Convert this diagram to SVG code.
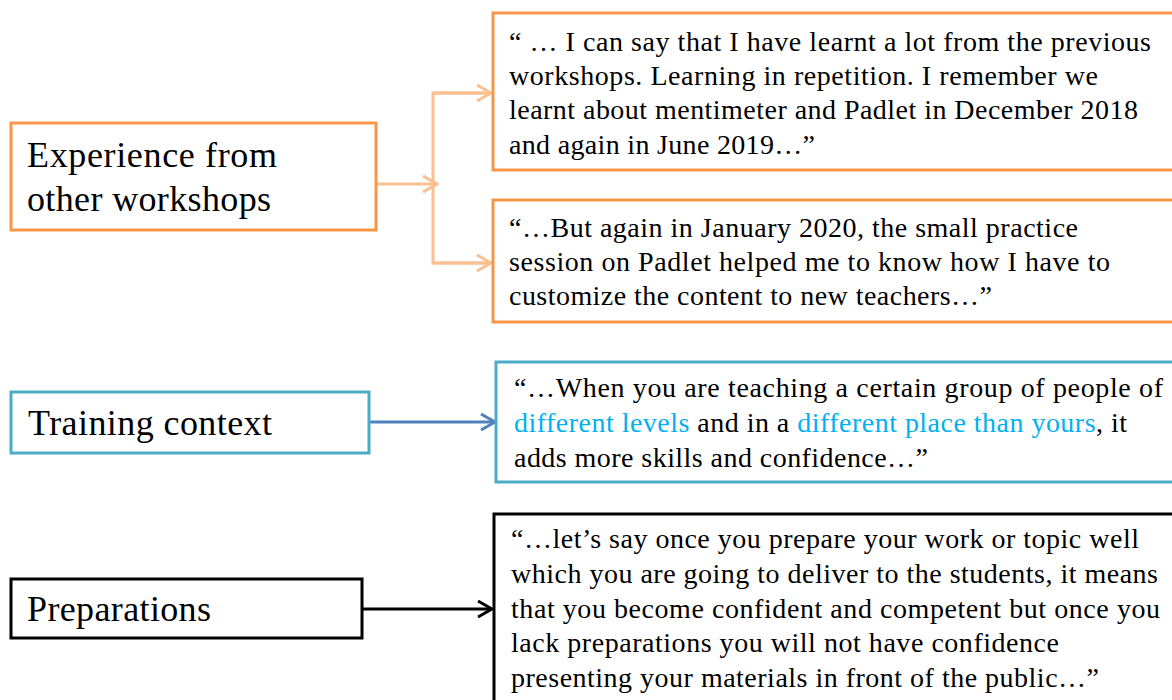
<svg xmlns="http://www.w3.org/2000/svg" width="1172" height="700" viewBox="0 0 1172 700">
  <style>
    .box { fill: #ffffff; stroke-width: 3; }
    .orange { stroke: #F79646; }
    .blue { stroke: #4BACC6; }
    .black { stroke: #000000; }
    .label { font-family: "Liberation Serif", "Times New Roman", serif; font-size: 36px; fill: #000000; }
    .quote { font-family: "Liberation Serif", "Times New Roman", serif; font-size: 28px; fill: #000000; }
    .hl { fill: #00B0F0; }
    .conn { fill: none; stroke-width: 3; }
  </style>
  <defs>
    <marker id="arrow-orange" viewBox="0 0 18 18" refX="16" refY="9" markerWidth="18" markerHeight="18" markerUnits="userSpaceOnUse" orient="auto">
      <path d="M2,1 L16,9 L2,17" fill="none" stroke="#FAC090" stroke-width="3"/>
    </marker>
    <marker id="arrow-blue" viewBox="0 0 18 18" refX="16" refY="9" markerWidth="18" markerHeight="18" markerUnits="userSpaceOnUse" orient="auto">
      <path d="M2,1 L16,9 L2,17" fill="none" stroke="#4F81BD" stroke-width="3"/>
    </marker>
    <marker id="arrow-black" viewBox="0 0 18 18" refX="16" refY="9" markerWidth="18" markerHeight="18" markerUnits="userSpaceOnUse" orient="auto">
      <path d="M2,1 L16,9 L2,17" fill="none" stroke="#000000" stroke-width="3"/>
    </marker>
  </defs>

  <rect width="1172" height="700" fill="#ffffff"/>

  <!-- connectors -->
  <g id="connectors">
    <path class="conn" stroke="#FAC090" d="M376,184 L437,184" marker-end="url(#arrow-orange)"/>
    <path class="conn" stroke="#FAC090" d="M491,93 L433,93 L433,263 L491,263"/>
    <path class="conn" stroke="#FAC090" d="M433,93 L491,93" marker-end="url(#arrow-orange)"/>
    <path class="conn" stroke="#FAC090" d="M433,263 L491,263" marker-end="url(#arrow-orange)"/>
    <path class="conn" stroke="#4F81BD" d="M369,422 L495,422" marker-end="url(#arrow-blue)"/>
    <path class="conn" stroke="#000000" d="M362,609 L492,609" marker-end="url(#arrow-black)"/>
  </g>

  <!-- theme: experience from other workshops -->
  <g id="node-experience">
    <rect class="box orange" x="11" y="123" width="365" height="107"/>
    <text class="label" x="27" y="167" textLength="250" lengthAdjust="spacing">Experience  from</text>
    <text class="label" x="27" y="211" textLength="244" lengthAdjust="spacing">other workshops</text>
  </g>

  <g id="quote-workshops">
    <rect class="box orange" x="493" y="13" width="690" height="157"/>
    <text class="quote" x="509" y="51" textLength="642" lengthAdjust="spacing">“ … I can say that I have learnt a lot from the previous</text>
    <text class="quote" x="509" y="85" textLength="589" lengthAdjust="spacing">workshops. Learning  in repetition. I remember we</text>
    <text class="quote" x="509" y="119" textLength="629" lengthAdjust="spacing">learnt about mentimeter  and Padlet in December 2018</text>
    <text class="quote" x="509" y="154" textLength="306" lengthAdjust="spacing">and again in June 2019…”</text>
  </g>

  <g id="quote-padlet">
    <rect class="box orange" x="493" y="200" width="690" height="122"/>
    <text class="quote" x="509" y="237" textLength="569" lengthAdjust="spacing">“…But  again in January 2020,  the small practice</text>
    <text class="quote" x="509" y="271" textLength="601" lengthAdjust="spacing">session on Padlet helped me to know how I have to</text>
    <text class="quote" x="509" y="305" textLength="483" lengthAdjust="spacing">customize  the content to new teachers…”</text>
  </g>

  <!-- theme: training context -->
  <g id="node-training">
    <rect class="box blue" x="11" y="392" width="358" height="61"/>
    <text class="label" x="28" y="435" textLength="244" lengthAdjust="spacing">Training  context</text>
  </g>

  <g id="quote-training">
    <rect class="box blue" x="496" y="362" width="690" height="120"/>
    <text class="quote" x="514" y="397" textLength="649" lengthAdjust="spacing">“…When you are teaching a certain group of people of</text>
    <text class="quote" x="514" y="432" textLength="613" lengthAdjust="spacing"><tspan class="hl">different levels</tspan> and in a <tspan class="hl">different place  than yours</tspan>, it</text>
    <text class="quote" x="514" y="467" textLength="414" lengthAdjust="spacing">adds more skills  and confidence…”</text>
  </g>

  <!-- theme: preparations -->
  <g id="node-preparations">
    <rect class="box black" x="11" y="579" width="351" height="59"/>
    <text class="label" x="27" y="621" textLength="184" lengthAdjust="spacing">Preparations</text>
  </g>

  <g id="quote-preparations">
    <rect class="box black" x="494" y="514" width="690" height="200"/>
    <text class="quote" x="511" y="548" textLength="628" lengthAdjust="spacing">“…let’s  say once you prepare your work or topic well</text>
    <text class="quote" x="511" y="583" textLength="647" lengthAdjust="spacing">which you are going to deliver to the students, it means</text>
    <text class="quote" x="511" y="618" textLength="649" lengthAdjust="spacing">that you become confident and competent but once you</text>
    <text class="quote" x="511" y="652" textLength="548" lengthAdjust="spacing">lack preparations you will not have confidence</text>
    <text class="quote" x="511" y="687" textLength="588" lengthAdjust="spacing">presenting your materials  in front of the public…”</text>
  </g>
</svg>
